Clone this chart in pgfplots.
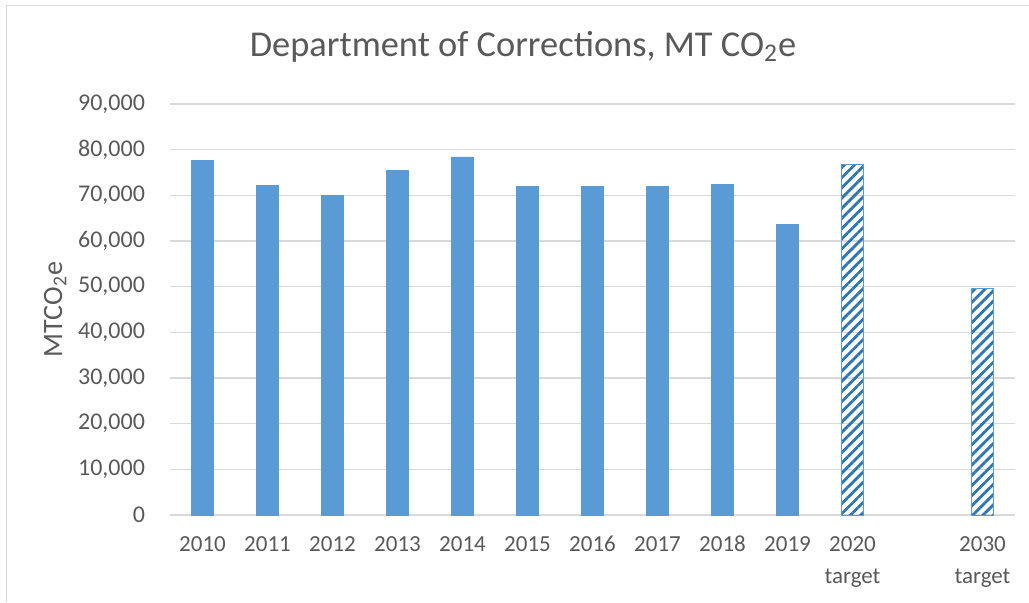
\documentclass[border=0pt]{standalone}
\usepackage{fontspec}
\setmainfont{Carlito}
\usepackage{pgfplots}
\pgfplotsset{compat=1.18}
\usetikzlibrary{patterns.meta}
\definecolor{txt}{HTML}{595959}
\definecolor{grid}{HTML}{D9D9D9}
\definecolor{barblue}{HTML}{5B9BD5}
\definecolor{hatch}{HTML}{2E75B6}
\begin{document}
\begin{tikzpicture}
\begin{axis}[
  at={(0,0)}, anchor=south west,
  scale only axis,
  width=422.5pt, height=205.5pt,
  xmin=-0.5, xmax=12.5,
  ymin=0, ymax=90000,
  ytick={0,10000,...,90000},
  xtick={0,1,2,3,4,5,6,7,8,9,10,12},
  xticklabels={2010,2011,2012,2013,2014,2015,2016,2017,2018,2019,{2020\\target},{2030\\target}},
  scaled y ticks=false,
  /pgf/number format/.cd, 1000 sep={,}, assume math mode=true,
  /pgfplots/.cd,
  axis line style={draw=none},
  tick style={draw=none},
  major tick length=0pt,
  ymajorgrids,
  grid style={draw=grid, line width=0.65pt},
  ticklabel style={font=\fontsize{11.5}{16}\selectfont, text=txt},
  xticklabel style={align=center, yshift=-7pt},
  yticklabel style={xshift=-9pt, font=\fontsize{12}{16}\selectfont},
  ylabel={MTCO\textsubscript{2}e},
  ylabel style={at={(axis description cs:-0.136,0.5)}, anchor=center, font=\fontsize{14}{16}\selectfont, text=txt},
  ybar,
  bar width=11pt,
]
\addplot[fill=barblue, draw=barblue, bar shift=0pt] coordinates {
  (0,77600) (1,72100) (2,69900) (3,75400) (4,78400)
  (5,71900) (6,71900) (7,72000) (8,72400) (9,63700)
};
\addplot[draw=barblue, line width=0.5pt, pattern={Lines[angle=45,distance=3.6pt,line width=1.4pt]}, pattern color=hatch, bar shift=0pt] coordinates {
  (10,76800) (12,49700)
};
\end{axis}
\node[font=\fontsize{18.2}{21}\selectfont, text=txt] at (176.5pt,234pt) {Department of Corrections, MT CO\textsubscript{2}e};
\draw[grid, line width=0.65pt] (-81.75pt,-43.5pt) -- (-81.75pt,254.75pt) -- (429.5pt,254.75pt);
\pgfresetboundingbox
\path (-85pt,-43.5pt) rectangle (429.5pt,257.5pt);
\end{tikzpicture}
\end{document}
